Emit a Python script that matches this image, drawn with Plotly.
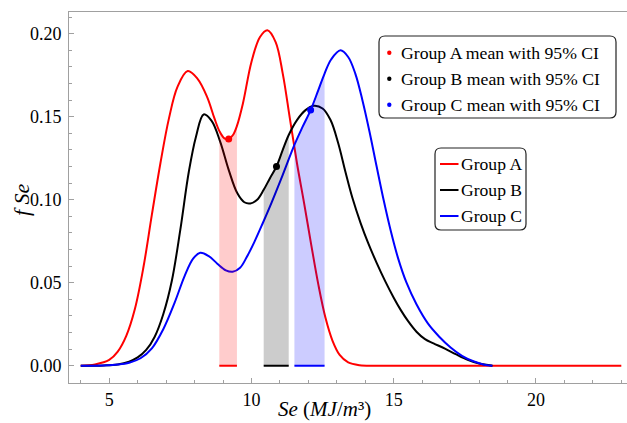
import plotly.graph_objects as go

# Kernel density curves of Se for the three groups (Se in MJ/m^3, density fSe)
se_a = [4.0, 4.5, 5.0, 5.3, 5.6, 5.9, 6.2, 6.5, 6.8, 7.1, 7.4, 7.76, 8.1, 8.44, 8.7, 8.87,
        9.05, 9.2, 9.35, 9.49, 9.7, 10.0, 10.3, 10.56, 10.85, 11.1, 11.35, 11.6, 11.85, 12.1,
        12.35, 12.6, 12.85, 13.1, 13.4, 13.8, 14.3, 15.0, 17.0, 19.0, 21.0, 23.0]
f_a = [0.0, 0.0008, 0.0035, 0.0085, 0.018, 0.034, 0.059, 0.091, 0.122, 0.149, 0.168, 0.1775,
       0.173, 0.162, 0.149, 0.1415, 0.137, 0.1366, 0.139, 0.1445, 0.158, 0.183, 0.198, 0.2021,
       0.195, 0.176, 0.149, 0.122, 0.098, 0.073, 0.049, 0.029, 0.015, 0.0065, 0.002, 0.0003,
       0.0, 0.0, 0.0, 0.0, 0.0, 0.0]

se_b = [4.0, 4.8, 5.3, 5.7, 6.0, 6.3, 6.6, 6.9, 7.2, 7.5, 7.8, 8.05, 8.32, 8.6, 8.9, 9.2,
        9.5, 9.75, 9.96, 10.2, 10.43, 10.65, 10.88, 11.1, 11.31, 11.6, 11.9, 12.19, 12.5,
        12.78, 13.05, 13.3, 13.55, 13.84, 14.1, 14.4, 14.7, 15.0, 15.25, 15.5, 15.8, 16.1,
        16.4, 16.8, 17.2, 17.6, 18.0, 18.47]
f_b = [0.0, 0.0002, 0.0008, 0.0025, 0.005, 0.0095, 0.0175, 0.031, 0.051, 0.082, 0.117, 0.138,
       0.1514, 0.1475, 0.135, 0.118, 0.104, 0.0985, 0.0978, 0.1, 0.106, 0.113, 0.12, 0.13,
       0.139, 0.148, 0.154, 0.1566, 0.155, 0.148, 0.134, 0.117, 0.101, 0.0858, 0.074, 0.062,
       0.051, 0.041, 0.0335, 0.027, 0.0205, 0.016, 0.0135, 0.0103, 0.0068, 0.0036, 0.0013,
       0.0]

se_c = [4.0, 4.8, 5.3, 5.7, 6.1, 6.5, 6.9, 7.3, 7.65, 7.95, 8.2, 8.5, 8.8, 9.1, 9.34, 9.6,
        9.85, 10.1, 10.4, 10.7, 11.1, 11.51, 11.8, 12.08, 12.35, 12.57, 12.8, 13.13, 13.4,
        13.65, 13.9, 14.15, 14.4, 14.65, 14.9, 15.15, 15.45, 15.8, 16.2, 16.6, 17.0, 17.4,
        17.8, 18.15, 18.47]
f_c = [0.0, 0.0002, 0.0007, 0.0018, 0.0045, 0.0105, 0.022, 0.038, 0.054, 0.0645, 0.068, 0.066,
       0.0615, 0.0575, 0.0566, 0.059, 0.066, 0.0745, 0.086, 0.098, 0.115, 0.133, 0.144, 0.154,
       0.166, 0.176, 0.1845, 0.19, 0.186, 0.176, 0.16, 0.141, 0.12, 0.0995, 0.081, 0.065,
       0.05, 0.037, 0.0255, 0.0175, 0.011, 0.006, 0.0027, 0.0008, 0.0]

groups = ["Group A", "Group B", "Group C"]
mean_se = [9.2, 10.88, 12.08]
mean_f = [0.1366, 0.12, 0.154]
ci_low = [8.87, 10.43, 11.51]
ci_high = [9.49, 11.31, 12.57]

x_ticks = [5, 10, 15, 20]
y_ticks = [0.0, 0.05, 0.10, 0.15, 0.20]
y_tick_text = ["0.00", "0.05", "0.10", "0.15", "0.20"]

line_colors = ["#ff0000", "#000000", "#0000ff"]
band_colors = ["rgba(255,0,0,0.2)", "rgba(0,0,0,0.2)", "rgba(0,0,255,0.2)"]
serif = "Liberation Serif, Times New Roman, serif"

curves = [(se_a, f_a), (se_b, f_b), (se_c, f_c)]

fig = go.Figure()

# density curves
for (xs, ys), name, col in zip(curves, groups, line_colors):
    fig.add_trace(go.Scatter(x=xs, y=ys, mode="lines", name=name,
                             line=dict(color=col, width=2, shape="spline", smoothing=1),
                             showlegend=False))

# shaded 95% CI of the mean: area under each curve between the CI limits
for (xs, ys), lo, hi, band, col in zip(curves, ci_low, ci_high, band_colors, line_colors):
    bx = [x for x in xs if lo <= x <= hi]
    by = [y for x, y in zip(xs, ys) if lo <= x <= hi]
    fig.add_trace(go.Scatter(x=bx, y=by, mode="lines", fill="tozeroy", fillcolor=band,
                             line=dict(width=0, shape="spline"), showlegend=False,
                             hoverinfo="skip"))
    fig.add_trace(go.Scatter(x=[lo, hi], y=[0, 0], mode="lines",
                             line=dict(color=col, width=2), showlegend=False,
                             hoverinfo="skip"))

# group means
for mx, my, name, col in zip(mean_se, mean_f, groups, line_colors):
    fig.add_trace(go.Scatter(x=[mx], y=[my], mode="markers",
                             name=f"{name} mean with 95% CI",
                             marker=dict(color=col, size=7), showlegend=False))

# plot area in pixels
W, H = 627, 423
L, R, T, B = 69, 0, 12, 40
PW, PH = W - L - R, H - T - B


def px(X):
    return (X - L) / PW


def py(Y):
    return (H - B - Y) / PH


def rounded_box(x0, y0, x1, y1, r=6):
    # rounded rectangle given in pixel coordinates, returned as a paper-space path
    rx, ry = r / PW, r / PH
    a, b, c, d = px(x0), px(x1), py(y0), py(y1)
    return (f"M{a + rx},{c} L{b - rx},{c} Q{b},{c} {b},{c - ry} "
            f"L{b},{d + ry} Q{b},{d} {b - rx},{d} L{a + rx},{d} "
            f"Q{a},{d} {a},{d + ry} L{a},{c - ry} Q{a},{c} {a + rx},{c} Z")


shapes = []
annotations = []

# legend for the means
shapes.append(dict(type="path", xref="paper", yref="paper",
                   path=rounded_box(379, 36, 616, 118), line=dict(color="#222", width=1.2),
                   fillcolor="white", layer="above"))
for i, (name, col) in enumerate(zip(groups, line_colors)):
    yc = 52.7 + 26 * i
    rdot = 2.2
    shapes.append(dict(type="circle", xref="paper", yref="paper",
                       x0=px(389.3 - rdot), x1=px(389.3 + rdot),
                       y0=py(yc + rdot), y1=py(yc - rdot),
                       fillcolor=col, line=dict(width=0), layer="above"))
    annotations.append(dict(text=f"{name} mean with 95% CI", xref="paper", yref="paper",
                            x=px(399), y=py(yc), xanchor="left", yanchor="middle",
                            showarrow=False, font=dict(family=serif, size=17.7,
                                                       color="black")))

# legend for the curves
shapes.append(dict(type="path", xref="paper", yref="paper",
                   path=rounded_box(435, 148, 526, 230), line=dict(color="#222", width=1.2),
                   fillcolor="white", layer="above"))
for i, (name, col) in enumerate(zip(groups, line_colors)):
    yc = 164 + 26 * i
    shapes.append(dict(type="line", xref="paper", yref="paper",
                       x0=px(440), x1=px(458.5), y0=py(yc), y1=py(yc),
                       line=dict(color=col, width=2), layer="above"))
    annotations.append(dict(text=name, xref="paper", yref="paper",
                            x=px(459), y=py(yc), xanchor="left", yanchor="middle",
                            showarrow=False, font=dict(family=serif, size=17.6,
                                                       color="black")))

# axis titles
annotations.append(dict(text="<i>Se</i> (<i>MJ</i>/<i>m</i>³)", xref="paper", yref="paper",
                        x=px(324), y=py(409), xanchor="center", yanchor="middle",
                        showarrow=False, font=dict(family=serif, size=21, color="black")))
annotations.append(dict(text="<i>f Se</i>", xref="paper", yref="paper",
                        x=px(22), y=py(200), xanchor="center", yanchor="middle",
                        textangle=-90, showarrow=False,
                        font=dict(family=serif, size=22, color="black")))

axis_col = "#a0a0a0"
fig.update_layout(
    width=W, height=H,
    margin=dict(l=L, r=R, t=T, b=B, pad=0),
    paper_bgcolor="white", plot_bgcolor="white",
    showlegend=False,
    shapes=shapes, annotations=annotations,
    xaxis=dict(range=[3.587, 23.2], tickvals=x_ticks, ticks="inside", ticklen=5,
               tickcolor=axis_col, showline=True, linecolor=axis_col, linewidth=1,
               mirror=True, showgrid=False, zeroline=False,
               tickfont=dict(family=serif, size=18, color="black"),
               minor=dict(dtick=1, tick0=0, ticks="inside", ticklen=3, tickcolor=axis_col)),
    yaxis=dict(range=[-0.0104, 0.2131], tickvals=y_ticks, ticktext=y_tick_text,
               ticks="inside", ticklen=5, tickcolor=axis_col, showline=True,
               linecolor=axis_col, linewidth=1, mirror=False, showgrid=False,
               zeroline=False, ticklabelstandoff=3,
               tickfont=dict(family=serif, size=18, color="black"),
               minor=dict(dtick=0.01, tick0=0, ticks="inside", ticklen=3,
                          tickcolor=axis_col)),
)

fig.write_html("out.html")
